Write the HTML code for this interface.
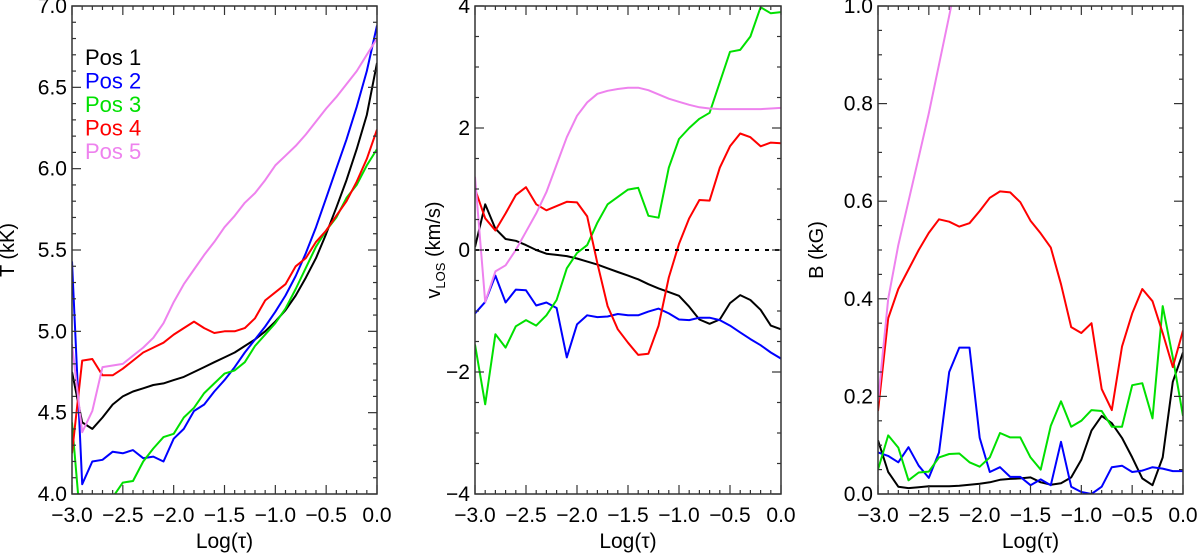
<!DOCTYPE html>
<html><head><meta charset="utf-8"><style>
html,body{margin:0;padding:0;background:#fff;}
svg{display:block;font-family:"Liberation Sans",Arial,sans-serif;}
</style></head><body>
<svg id="chart" width="1200" height="553" viewBox="0 0 1200 553"></svg>
<script>
const xVals = [-3.0,-2.9,-2.8,-2.7,-2.6,-2.5,-2.4,-2.3,-2.2,-2.1,-2.0,-1.9,-1.8,-1.7,-1.6,-1.5,-1.4,-1.3,-1.2,-1.1,-1.0,-0.9,-0.8,-0.7,-0.6,-0.5,-0.4,-0.3,-0.2,-0.1,0.0];
const seriesNames = ["Pos 1","Pos 2","Pos 3","Pos 4","Pos 5"];
const seriesColors = ["#000000","#0000ff","#00e000","#ff0000","#ee82ee"];
const xTickLabels = ["−3.0","−2.5","−2.0","−1.5","−1.0","−0.5","0.0"];
// Temperature (kK)
const tPos1 = [4.75,4.44,4.40,4.47,4.55,4.60,4.63,4.65,4.67,4.68,4.70,4.72,4.75,4.78,4.81,4.84,4.87,4.91,4.95,5.00,5.06,5.13,5.22,5.33,5.45,5.60,5.76,5.93,6.12,6.33,6.65];
const tPos2 = [5.43,4.06,4.20,4.21,4.26,4.25,4.27,4.22,4.23,4.20,4.34,4.40,4.51,4.55,4.63,4.70,4.78,4.87,4.95,5.03,5.12,5.22,5.34,5.48,5.64,5.82,6.00,6.18,6.38,6.60,6.88];
const tPos3 = [4.44,3.70,3.60,3.80,3.98,4.07,4.08,4.20,4.28,4.35,4.37,4.47,4.53,4.62,4.68,4.74,4.76,4.81,4.91,4.98,5.05,5.14,5.26,5.39,5.52,5.62,5.70,5.82,5.90,6.02,6.12];
const tPos4 = [4.25,4.82,4.83,4.73,4.73,4.77,4.82,4.87,4.90,4.93,4.98,5.02,5.06,5.02,4.99,5.00,5.00,5.02,5.08,5.19,5.24,5.29,5.40,5.45,5.55,5.62,5.71,5.80,5.92,6.06,6.24];
const tPos5 = [4.92,4.38,4.51,4.78,4.79,4.80,4.85,4.90,4.96,5.05,5.18,5.29,5.38,5.47,5.55,5.64,5.71,5.79,5.85,5.93,6.02,6.08,6.14,6.21,6.29,6.37,6.44,6.52,6.60,6.70,6.80];
const tTickLabels = ["4.0","4.5","5.0","5.5","6.0","6.5","7.0"];
// Velocity (km/s)
const vPos1 = [0.05,0.75,0.35,0.18,0.15,0.08,0.0,-0.06,-0.08,-0.1,-0.14,-0.19,-0.24,-0.3,-0.36,-0.42,-0.48,-0.56,-0.63,-0.69,-0.75,-0.93,-1.14,-1.21,-1.14,-0.87,-0.74,-0.82,-0.98,-1.24,-1.3];
const vPos2 = [-1.04,-0.85,-0.42,-0.86,-0.65,-0.66,-0.91,-0.86,-0.95,-1.76,-1.22,-1.07,-1.1,-1.09,-1.05,-1.07,-1.07,-1.01,-0.96,-1.04,-1.14,-1.15,-1.11,-1.11,-1.15,-1.24,-1.35,-1.46,-1.56,-1.68,-1.78];
const vPos3 = [-1.55,-2.53,-1.38,-1.6,-1.25,-1.15,-1.24,-1.07,-0.82,-0.3,-0.05,0.08,0.45,0.75,0.87,0.99,1.02,0.56,0.53,1.35,1.82,2.0,2.15,2.25,2.75,3.25,3.28,3.5,3.98,3.88,3.9];
const vPos4 = [1.0,0.52,0.32,0.6,0.9,1.03,0.75,0.65,0.72,0.79,0.78,0.55,-0.22,-0.92,-1.3,-1.52,-1.72,-1.7,-1.24,-0.45,0.1,0.52,0.82,0.81,1.35,1.7,1.91,1.85,1.7,1.76,1.75];
const vPos5 = [1.2,-0.85,-0.35,-0.25,0.0,0.3,0.6,0.95,1.4,1.85,2.2,2.42,2.56,2.61,2.64,2.66,2.66,2.62,2.55,2.48,2.43,2.38,2.34,2.32,2.31,2.31,2.31,2.31,2.31,2.32,2.33];
const vTickLabels = ["−4","−2","0","2","4"];
// Magnetic field (kG)
const bPos1 = [0.11,0.045,0.015,0.012,0.014,0.016,0.016,0.016,0.017,0.019,0.021,0.024,0.029,0.031,0.032,0.034,0.024,0.019,0.022,0.034,0.07,0.13,0.16,0.145,0.115,0.075,0.032,0.018,0.075,0.23,0.29];
const bPos2 = [0.085,0.078,0.065,0.096,0.058,0.033,0.085,0.25,0.30,0.30,0.115,0.045,0.055,0.035,0.035,0.018,0.03,0.018,0.107,0.015,0.004,0.0,0.015,0.055,0.058,0.045,0.048,0.055,0.052,0.047,0.047];
const bPos3 = [0.05,0.12,0.095,0.028,0.044,0.046,0.075,0.082,0.083,0.065,0.056,0.075,0.125,0.116,0.116,0.075,0.05,0.14,0.19,0.138,0.15,0.172,0.17,0.138,0.138,0.223,0.227,0.155,0.385,0.28,0.16];
const bPos4 = [0.17,0.36,0.42,0.46,0.50,0.535,0.563,0.558,0.548,0.555,0.58,0.607,0.62,0.618,0.598,0.56,0.534,0.505,0.43,0.342,0.33,0.35,0.215,0.172,0.302,0.37,0.42,0.395,0.33,0.26,0.335];
const bPos5 = [0.19,0.40,0.51,0.60,0.69,0.78,0.88,0.98,1.08];
const bTickLabels = ["0.0","0.2","0.4","0.6","0.8","1.0"];

const NS = "http://www.w3.org/2000/svg";
const svg = document.getElementById('chart');
function mk(tag, attrs, parent){ const e=document.createElementNS(NS,tag); for(const k in attrs) e.setAttribute(k,attrs[k]); (parent||svg).appendChild(e); return e; }

const TOP=6, BOT=494;
const panels = [
  {id:'temperature', x0:72, x1:377, ymin:4, ymax:7, major:0.5, minor:0.1, labels:tTickLabels, title:'T (kK)', series:[tPos1,tPos2,tPos3,tPos4,tPos5], legend:true, toff:58},
  {id:'velocity', x0:475, x1:781, ymin:-4, ymax:4, major:2, minor:0.5, labels:vTickLabels, title:'v', series:[vPos1,vPos2,vPos3,vPos4,vPos5], zero:true, toff:35},
  {id:'field', x0:878, x1:1183, ymin:0, ymax:1, major:0.2, minor:0.05, labels:bTickLabels, title:'B (kG)', series:[bPos1,bPos2,bPos3,bPos4,bPos5], toff:55}
];

panels.forEach((p,pi)=>{
  const g = mk('g',{});
  
  
  const xs = v => p.x0 + (v+3)/3*(p.x1-p.x0);
  const ys = v => BOT - (v-p.ymin)/(p.ymax-p.ymin)*(BOT-TOP);
  const cp = mk('clipPath',{id:'clip'+pi}, g);
  mk('rect',{x:p.x0,y:TOP,width:p.x1-p.x0,height:BOT-TOP},cp);
  p.series.forEach((arr,si)=>{
    const pts = arr.map((v,i)=>xs(xVals[i]).toFixed(1)+','+ys(v).toFixed(1)).join(' ');
    const pl = mk('polyline',{points:pts,fill:'none',stroke:seriesColors[si],'stroke-width':2,'stroke-linejoin':'round','clip-path':'url(#clip'+pi+')'}, g);
    
    
  });
  if(p.zero){
    const zl = mk('line',{x1:p.x0,x2:p.x1,y1:ys(0),y2:ys(0),stroke:'#000','stroke-width':2,'stroke-dasharray':'4,6'}, g);
    
    
  }
  const fr = mk('rect',{x:p.x0,y:TOP,width:p.x1-p.x0,height:BOT-TOP,fill:'none',stroke:'#333','stroke-width':1.5}, g);
  
  
  for(let k=0;k<=30;k++){
    const v=-3+k*0.1, x=xs(v), L=(k%5===0)?9:4;
    mk('line',{x1:x,x2:x,y1:BOT,y2:BOT-L,stroke:'#333','stroke-width':1.2},g);
    mk('line',{x1:x,x2:x,y1:TOP,y2:TOP+L,stroke:'#333','stroke-width':1.2},g);
  }
  xTickLabels.forEach((lab,i)=>{
    const t = mk('text',{x:xs(-3+i*0.5),y:522,'text-anchor':'middle','font-size':21,fill:'#000'},g);
    t.textContent=lab;
    
    
  });
  const xt = mk('text',{x:(p.x0+p.x1)/2,y:548,'text-anchor':'middle','font-size':21,fill:'#000'},g);
  xt.textContent='Log(τ)';
  
  
  const nMinor = Math.round((p.ymax-p.ymin)/p.minor), ratio=Math.round(p.major/p.minor);
  for(let k=0;k<=nMinor;k++){
    const y=ys(p.ymin+k*p.minor), L=(k%ratio===0)?9:4;
    mk('line',{x1:p.x0,x2:p.x0+L,y1:y,y2:y,stroke:'#333','stroke-width':1.2},g);
    mk('line',{x1:p.x1,x2:p.x1-L,y1:y,y2:y,stroke:'#333','stroke-width':1.2},g);
  }
  p.labels.forEach((lab,i)=>{
    const t = mk('text',{x:p.x0-5,y:ys(p.ymin+i*p.major)+7,'text-anchor':'end','font-size':21,fill:'#000'},g);
    t.textContent=lab;
    
    
  });
  const cy=(TOP+BOT)/2, tx=p.x0-p.toff;
  const yt = mk('text',{x:tx,y:cy,'text-anchor':'middle','font-size':20,fill:'#000',transform:'rotate(-90 '+tx+' '+cy+')'},g);
  if(pi===1){
    yt.innerHTML = 'v<tspan font-size="13" dy="5">LOS</tspan><tspan dy="-5"> (km/s)</tspan>';
  } else yt.textContent=p.title;
  
  
  if(p.legend){
    seriesNames.forEach((n,si)=>{
      const t = mk('text',{x:85,y:65+si*23.5,'font-size':22,fill:seriesColors[si]},g);
      t.textContent=n;
      
      
    });
  }
});
</script>
</body></html>
